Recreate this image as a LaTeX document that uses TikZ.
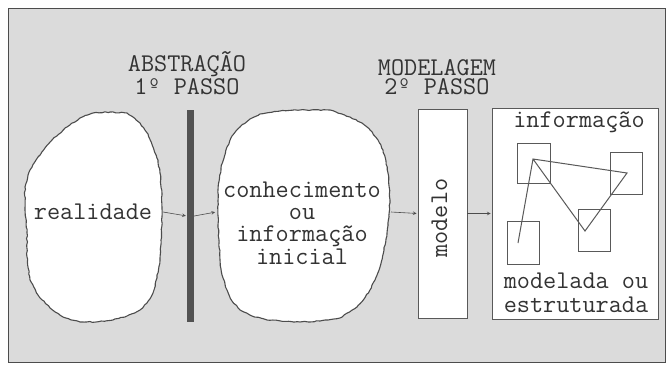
\documentclass[tikz,border=0pt]{standalone}
\usepackage{fontspec}
\usetikzlibrary{decorations.pathmorphing}

\begin{document}
\begin{tikzpicture}[x=1pt,y=-1pt,>=stealth,
  txt/.style={text=black!80,font=\ttfamily\fontsize{25.5}{21}\selectfont,inner sep=0pt,align=center},
  wobbly/.style={draw=black!70,line width=1.1pt,fill=white,line join=round,
    decoration={random steps,segment length=3pt,amplitude=.5pt},decorate},
  caixa/.style={draw=black!65,line width=.9pt,fill=white,inner sep=0pt},
  quad/.style={draw=black!65,line width=.8pt,inner sep=0pt},
  seta/.style={->,draw=black!70,line width=.6pt,shorten >=1pt}]
\pgfmathsetseed{7}
\useasboundingbox (0,0) rectangle (667,367);
\fill[white] (0,0) rectangle (667,367);
\draw[black!70,line width=.9pt,fill=black!14] (8,8) rectangle (665,362);
%\draw (0,0) to[grid with coordinates] (667,367);
% nuvens
\draw[wobbly] (25,187) -- (30,170) -- (38,157) -- (52,140) -- (67,127) -- (80,118) -- (93,113) -- (110,112) -- (127,113) -- (140,123) -- (148,134) -- (153,147) -- (158,160) -- (160,173) -- (162,195) -- (162,217) -- (161,240) -- (160,260) -- (157,278) -- (153,293) -- (147,303) -- (140,310) -- (127,316) -- (113,320) -- (96,322) -- (80,322) -- (63,317) -- (50,308) -- (38,295) -- (30,280) -- (27,257) -- (27,233) -- (25,210) -- cycle;
\draw[wobbly] (218,190) -- (221,168) -- (227,147) -- (232,136) -- (240,127) -- (250,119) -- (260,114) -- (280,111) -- (300,110) -- (330,110) -- (350,117) -- (362,123) -- (370,130) -- (378,140) -- (383,150) -- (386,161) -- (388,173) -- (390,200) -- (389,217) -- (387,233) -- (384,250) -- (380,267) -- (375,280) -- (370,290) -- (364,299) -- (357,307) -- (340,318) -- (320,321) -- (300,322) -- (267,320) -- (252,316) -- (240,310) -- (232,301) -- (227,290) -- (222,275) -- (220,260) -- (218,225) -- cycle;
\node[txt,anchor=base] (realidade) at (93,219) {realidade};
\node[txt,anchor=base,font=\ttfamily\fontsize{25.5}{22.3}\selectfont] (conhec) at (302,264) {conhecimento\\ou\\informação\\inicial};
\coordinate (r1) at (163,212);
\coordinate (c2in) at (216,212);
\coordinate (c2out) at (391,212);
% passo 1
\node[fill=black!68,minimum width=7pt,minimum height=212pt,inner sep=0pt] (barra) at (190.5,216) {};
\node[txt,anchor=base,font=\ttfamily\fontsize{25.5}{19}\selectfont] (abstr) at (187,94) {ABSTRAÇÃO\\1º  PASSO};
% passo 2
\node[txt,anchor=base,font=\ttfamily\fontsize{25.5}{19}\selectfont] (model) at (437,94) {MODELAGEM\\2º  PASSO};
\node[caixa,minimum width=49pt,minimum height=209pt] (modelo) at (442.5,213.5) {};
\node[txt,anchor=base,rotate=90] at (447,218) {modelo};
\node[caixa,minimum width=166pt,minimum height=211pt] (info) at (575,213.5) {};
\node[txt,anchor=base] (infotit) at (579,127) {informação};
\node[txt,anchor=base,font=\ttfamily\fontsize{25.5}{24}\selectfont] (infobas) at (576,312) {modelada ou\\estruturada};
\node[quad,minimum width=33pt,minimum height=40pt] (q1) at (533.5,163) {};
\node[quad,minimum width=32pt,minimum height=42pt] (q2) at (626,173) {};
\node[quad,minimum width=32pt,minimum height=42pt] (q3) at (594,230) {};
\node[quad,minimum width=32pt,minimum height=43pt] (q4) at (523,242.5) {};
\coordinate (p1) at (533,159);
\coordinate (p2) at (627,173);
\coordinate (p3) at (585,231);
\coordinate (p4) at (518,243);
\draw[black!65,line width=1pt] (p4) -- (p1) -- (p2) -- (p3) -- (p1);
% setas
\draw[seta] (r1) -- (barra.west);
\draw[seta] (barra.east) -- (c2in);
\draw[seta] (c2out) -- (modelo.west);
\draw[seta] (modelo.east) -- (info.west);
\end{tikzpicture}
\end{document}
